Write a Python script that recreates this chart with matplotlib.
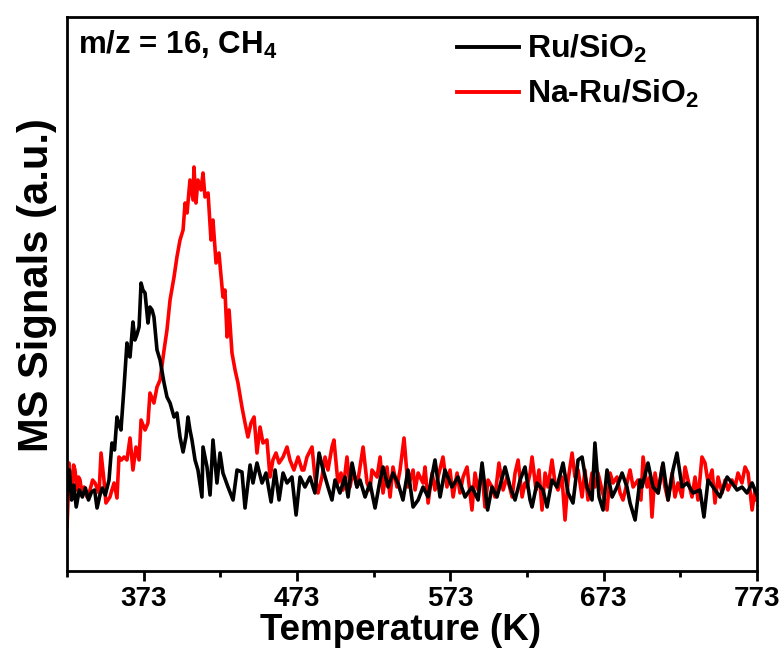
import matplotlib
matplotlib.use("Agg")
import matplotlib.pyplot as plt
from matplotlib.ticker import FixedLocator

plt.rcParams['font.family'] = ['Liberation Sans', 'DejaVu Sans']
plt.rcParams['font.weight'] = 'bold'
plt.rcParams['mathtext.fontset'] = 'custom'
plt.rcParams['mathtext.rm'] = 'Liberation Sans:bold'
plt.rcParams['mathtext.bf'] = 'Liberation Sans:bold'
plt.rcParams['mathtext.it'] = 'Liberation Sans:bold'

# ---- data (temperature in K, signal in a.u.) ----
ru_T = [323.5, 324.5, 326, 327.5, 329, 331, 333, 335, 337, 339, 341, 342.6, 344.5, 346, 348,
        350.4, 352.3, 354, 355.6, 357, 358.2, 360.2, 362.1, 363, 364.1, 366, 367.3, 368.5, 370,
        371.3, 372.5, 373.9, 375.8, 377.1, 378.5, 379.7, 381.7, 383.7, 386.3, 388.2, 390.2,
        392.8, 394.7, 396.7, 398.7, 400.6, 401.9, 403.2, 404.5, 406.5, 408.4, 411.0, 411.7,
        414.3, 416.3, 418.2, 420.8, 422.8, 424.7, 428.0, 431.3, 433.9, 437.1, 439.1, 442.4,
        444.3, 446.9, 450.2, 452.8, 456.1, 458.7, 461.3, 463.9, 466.5, 469.7, 472.4, 475.0,
        478.2, 481.5, 484.7, 487.4, 490.0, 493.2, 495.8, 497.8, 501.0, 504.3, 506.3, 508.9,
        512.1, 514.1, 517.4, 520.6, 523.9, 527.2, 529.1, 532.4, 535.6, 538.9, 542.1, 545.4,
        548.7, 552.0, 555.2, 558.5, 563.0, 566.3, 569.5, 574.1, 578.0, 582.6, 587.1, 591.1,
        593.7, 597.3, 600.2, 603.4, 608.7, 612.0, 615.2, 618.5, 621.7, 625.0, 626.3, 629.5,
        633.4, 636.1, 639.3, 642.6, 646.5, 649.8, 653.0, 656.3, 658.9, 662.1, 665.4, 667.3,
        670.0, 672.6, 675.2, 678.5, 681.7, 685.0, 688.2, 690.2, 693.5, 696.7, 698.0, 701.9,
        705.2, 708.5, 711.7, 715.0, 718.2, 720.8, 724.1, 727.4, 731.3, 735.8, 738.4, 741.1,
        744.3, 748.9, 753.5, 756.7, 760.0, 763.2, 766.5, 769.8, 771.7, 773.0]
ru_S = [81, 101, 71, 86, 64, 81, 74, 83, 71, 79, 81, 63, 76, 83, 76,
        91, 128, 121, 154, 146, 141, 184, 228, 216, 214, 249, 231, 236, 244,
        288, 281, 278, 248, 264, 261, 254, 221, 211, 188, 174, 168,
        154, 158, 134, 119, 134, 154, 141, 131, 111, 101, 74, 124,
        104, 76, 131, 88, 118, 98, 84, 71, 101, 99, 63, 106,
        88, 108, 88, 98, 69, 101, 71, 98, 88, 94, 56, 94,
        84, 94, 78, 118, 101, 84, 71, 91, 78, 94, 74, 108,
        84, 91, 74, 88, 63, 91, 104, 84, 98, 88, 71, 101,
        64, 71, 84, 74, 111, 74, 101, 84, 94, 74, 84, 71,
        108, 61, 84, 74, 104, 84, 71, 91, 104, 71, 64, 88,
        81, 64, 91, 84, 108, 78, 68, 111, 114, 84, 71, 128,
        74, 61, 101, 74, 84, 98, 84, 68, 51, 91, 84, 108,
        84, 78, 108, 71, 101, 118, 84, 88, 78, 81, 54, 91,
        84, 74, 94, 88, 81, 84, 78, 88, 81, 76]

naru_T = [323.0, 323.7, 324.3, 325.3, 326.3, 327.3, 328.2, 329.5, 330.5, 331.5, 332.8, 334.1,
          336.0, 338.0, 339.7, 341.3, 343.9, 345.2, 347.1, 348.4, 351.0, 352.3, 353.7, 355.6,
          356.9, 358.5, 360.2, 362.1, 364.1, 366.0, 368.0, 370.0, 371.3, 373.9, 375.8, 377.1,
          379.7, 381.7, 383.7, 386.3, 388.2, 390.2, 392.8, 394.7, 396.7, 398.7, 400.0, 401.3,
          403.2, 405.2, 405.8, 407.1, 408.4, 410.4, 411.7, 413.0, 415.0, 416.9, 418.2, 420.2,
          422.1, 424.7, 426.0, 427.4, 428.7, 430.6, 432.6, 434.5, 437.1, 439.1, 441.0, 443.0,
          445.0, 446.9, 448.9, 450.8, 453.4, 455.4, 457.3, 459.3, 461.3, 463.9, 466.5, 468.4,
          471.0, 473.7, 476.3, 477.5, 479.5, 482.8, 484.7, 486.7, 489.3, 491.3, 493.2, 495.8,
          497.1, 499.7, 501.7, 503.0, 505.6, 507.6, 509.5, 512.1, 514.1, 516.1, 518.7, 520.6,
          521.9, 525.2, 527.2, 529.1, 531.7, 533.7, 535.6, 538.2, 540.2, 542.8, 545.4, 548.7,
          550.0, 552.0, 555.2, 556.5, 558.5, 561.1, 563.0, 565.0, 568.2, 570.8, 572.8, 574.8,
          577.4, 579.3, 581.3, 583.9, 587.1, 589.1, 591.1, 593.7, 595.6, 597.6, 600.2, 602.1,
          604.7, 607.4, 610.0, 613.3, 615.2, 617.2, 619.8, 621.7, 623.0, 625.0, 626.3, 628.9,
          630.8, 632.8, 634.8, 636.7, 639.3, 641.3, 643.2, 645.8, 647.8, 649.8, 652.4, 654.3,
          656.3, 658.9, 660.8, 662.8, 665.4, 667.3, 669.3, 671.9, 675.2, 677.2, 679.1, 681.7,
          683.7, 685.6, 688.2, 690.2, 692.2, 695.4, 697.3, 698.7, 701.3, 703.2, 704.5, 706.5,
          708.5, 711.1, 713.0, 715.0, 717.6, 719.5, 721.5, 724.1, 726.1, 728.0, 730.6, 732.6,
          734.5, 737.1, 739.1, 741.1, 743.7, 745.6, 747.6, 750.2, 752.2, 754.1, 756.7, 758.7,
          760.6, 763.2, 765.2, 767.2, 769.8, 771.7, 773.0]
naru_S = [44, 71, 108, 81, 84, 106, 101, 81, 94, 91, 76, 84,
          74, 81, 91, 88, 78, 118, 91, 68, 74, 81, 88, 73,
          114, 111, 114, 111, 133, 101, 124, 111, 151, 141, 148, 178,
          168, 184, 191, 221, 241, 271, 294, 314, 331, 341, 368, 358,
          391, 371, 404, 368, 391, 381, 398, 374, 378, 331, 351, 308,
          318, 274, 281, 234, 261, 218, 201, 188, 164, 148, 134, 148,
          154, 118, 144, 128, 131, 94, 111, 118, 108, 114, 124, 111,
          101, 114, 101, 101, 114, 124, 94, 78, 94, 114, 101, 124,
          131, 88, 98, 81, 114, 84, 101, 84, 104, 124, 88, 81,
          101, 94, 114, 78, 104, 74, 104, 84, 101, 133, 84, 101,
          81, 98, 88, 104, 68, 98, 81, 94, 114, 84, 101, 74,
          98, 78, 94, 104, 61, 98, 81, 98, 64, 91, 84, 74,
          108, 81, 94, 74, 98, 111, 74, 88, 84, 98, 114, 81,
          101, 61, 98, 84, 111, 88, 81, 94, 51, 91, 118, 94,
          101, 74, 101, 71, 98, 84, 98, 81, 61, 98, 88, 94,
          78, 71, 88, 101, 84, 91, 71, 114, 84, 94, 54, 98,
          78, 104, 84, 71, 98, 74, 88, 74, 104, 91, 74, 94,
          71, 114, 108, 88, 101, 68, 94, 78, 91, 81, 91, 84,
          98, 88, 104, 98, 61, 81, 71]

x_major = [373, 473, 573, 673, 773]
x_minor = [323, 423, 523, 623, 723]
series_labels = [r'Ru/SiO$_\mathbf{2}$', r'Na-Ru/SiO$_\mathbf{2}$']
annotation = r'm/z = 16, CH$_\mathbf{4}$'

fig = plt.figure(figsize=(7.82, 6.55), dpi=100)
ax = fig.add_axes([67/782, 1 - 571/655, 690/782, 554/655])

ax.plot(ru_T, ru_S, color='black', lw=2.6, label=series_labels[0], zorder=3,
        solid_joinstyle='round')
ax.plot(naru_T, naru_S, color='#ff0000', lw=2.6, label=series_labels[1], zorder=2,
        solid_joinstyle='round')

ax.set_xlim(323, 773)
ax.set_ylim(0, 554)
ax.xaxis.set_major_locator(FixedLocator(x_major))
ax.xaxis.set_minor_locator(FixedLocator(x_minor))
ax.set_xticklabels([str(v) for v in x_major])
ax.set_yticks([])
for s in ax.spines.values():
    s.set_linewidth(2.0)
ax.tick_params(axis='x', which='major', direction='out', length=7, width=2, pad=4, labelsize=20)
ax.tick_params(axis='x', which='minor', direction='out', length=4, width=2)
for lab in ax.get_xticklabels():
    lab.set_fontweight('bold')

ax.set_xlabel('Temperature (K)', fontsize=26.5, fontweight='bold', labelpad=0)
ax.set_ylabel('MS Signals (a.u.)', fontsize=30, fontweight='bold')
ax.xaxis.set_label_coords((401 - 67) / 690, -0.076, transform=ax.transAxes)
ax.yaxis.set_label_coords(-0.043, (571 - 285) / 554, transform=ax.transAxes)
ax.xaxis.label.set_va('top')
ax.yaxis.label.set_va('center')

ax.text(0.016, 0.978, annotation, transform=ax.transAxes, fontsize=22.5,
        fontweight='bold', ha='left', va='top')

leg = ax.legend(loc='upper left', bbox_to_anchor=(0.537, 1.005), frameon=False,
                fontsize=23, handlelength=1.95, handletextpad=0.25, labelspacing=0.4,
                borderaxespad=0.2)
for line in leg.get_lines():
    line.set_linewidth(2.8)

fig.savefig('out.png', dpi=100)
